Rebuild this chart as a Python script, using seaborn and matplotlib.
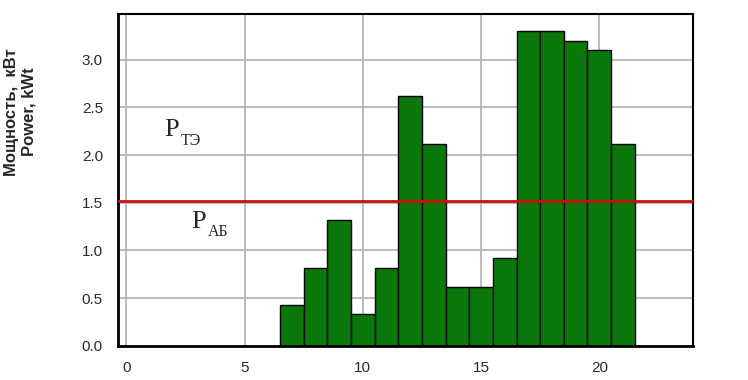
import numpy as np
import pandas as pd
import seaborn as sns
import matplotlib.pyplot as plt

# hourly power demand, kW
hours = [7, 8, 9, 10, 11, 12, 13, 14, 15, 16, 17, 18, 19, 20, 21]
power = [0.43, 0.82, 1.32, 0.33, 0.82, 2.62, 2.12, 0.62, 0.62, 0.92, 3.30, 3.30, 3.20, 3.10, 2.12]
battery_level = 1.52
x_ticks = [0, 5, 10, 15, 20]
y_ticks = [0.0, 0.5, 1.0, 1.5, 2.0, 2.5, 3.0]

sns.set_style('white')
plt.rcParams['font.family'] = ['Liberation Sans', 'DejaVu Sans']

df = pd.DataFrame({'hour': hours, 'power': power})

fig = plt.figure(figsize=(7.48, 3.8), dpi=100)
ax = fig.add_axes([0.158, 0.09, 0.768, 0.873])

ax.grid(True, color='#b0b0b0', linewidth=1.2)
ax.set_axisbelow(True)

sns.barplot(data=df, x='hour', y='power', native_scale=True, width=1,
            color='#0b780b', saturation=1, edgecolor='black', linewidth=1, ax=ax)

ax.axhline(battery_level, color='#c81010', linewidth=2, zorder=3)

# labels P_ТЭ and P_АБ
ax.text(1.6, 2.20, 'P', fontsize=19, family=['Liberation Serif'], va='baseline')
ax.text(2.3, 2.11, 'ТЭ', fontsize=11.5, family=['Liberation Serif'], va='baseline')
ax.text(2.75, 1.24, 'P', fontsize=19, family=['Liberation Serif'], va='baseline')
ax.text(3.45, 1.15, 'АБ', fontsize=11.5, family=['Liberation Serif'], va='baseline')

ax.set_xlim(-0.35, 23.95)
ax.set_ylim(0, 3.48)
ax.set_xticks(x_ticks)
ax.set_xticklabels([str(t) for t in x_ticks])
ax.set_yticks(y_ticks)
ax.set_yticklabels([f'{t:.1f}' for t in y_ticks])
ax.tick_params(axis='both', direction='out', length=6, width=1.5, color='black',
               labelsize=11, labelcolor='#2a2a2a', pad=5)
ax.set_xlabel('')
ax.set_ylabel('')

fig.text(0.027, 0.705, 'Мощность,  кВт\nPower, kWt', rotation=90, fontsize=12,
         fontweight='bold', ha='center', va='center', multialignment='center')

for side in ['left', 'bottom', 'top', 'right']:
    ax.spines[side].set_visible(True)
    ax.spines[side].set_color('black')
ax.spines['left'].set_linewidth(2)
ax.spines['bottom'].set_linewidth(2)
ax.spines['top'].set_linewidth(1.5)
ax.spines['right'].set_linewidth(1.5)

fig.savefig('out.png', dpi=100)
